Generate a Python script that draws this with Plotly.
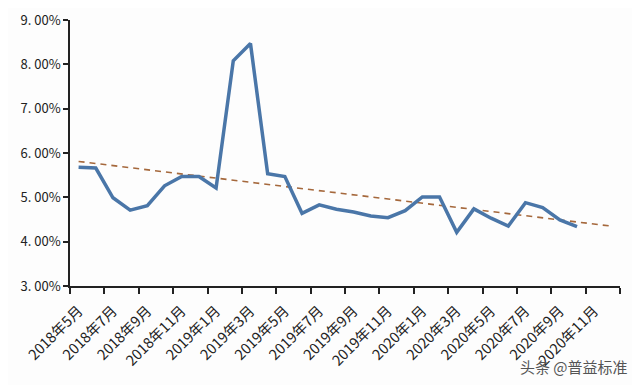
import plotly.graph_objects as go

months = [f"{y}年{m}月" for y, m in
          [(2018, m) for m in range(5, 13)] + [(2019, m) for m in range(1, 13)] + [(2020, m) for m in range(1, 13)]]

values = [5.68, 5.66, 4.99, 4.71, 4.81, 5.26, 5.47, 5.47, 5.21, 8.08,
          8.47, 5.53, 5.47, 4.64, 4.83, 4.73, 4.67, 4.58, 4.54, 4.70,
          5.01, 5.01, 4.21, 4.74, 4.53, 4.35, 4.88, 4.77, 4.49, 4.34]

trend_x = [months[0], months[-1]]
trend_y = [5.81, 4.35]

y_ticks = [3, 4, 5, 6, 7, 8, 9]
y_labels = [f"{v}. 00%" for v in y_ticks]

fig = go.Figure()
fig.add_trace(go.Scatter(x=trend_x, y=trend_y, mode="lines",
                         line=dict(color="#a5683c", width=1.6, dash="6px,5px"),
                         hoverinfo="skip"))
fig.add_trace(go.Scatter(x=months[:len(values)], y=values, mode="lines",
                         line=dict(color="#4a76a8", width=3.5)))

fig.update_layout(
    width=640, height=385,
    margin=dict(l=62, r=28, t=12, b=107, autoexpand=False),
    paper_bgcolor="#fdfdfd", plot_bgcolor="#fdfdfd",
    showlegend=False,
    font=dict(family="Noto Sans CJK SC", color="#222222"),
)
fig.update_xaxes(
    type="category", categoryorder="array", categoryarray=months,
    range=[-0.5, len(months) - 0.5], automargin=False,
    dtick=2, tickson="boundaries",
    tickangle=-45, tickfont=dict(size=14.5, color="#222222"),
    ticklabelstandoff=9,
    showline=True, linecolor="#222222", linewidth=1.5,
    ticks="outside", ticklen=6, tickcolor="#222222", tickwidth=1.5,
    showgrid=False, zeroline=False,
)
fig.update_yaxes(
    range=[3, 9], tickvals=y_ticks, ticktext=y_labels, automargin=False,
    tickfont=dict(size=13, color="#222222"),
    showline=True, linecolor="#222222", linewidth=1.5,
    ticks="outside", ticklen=5, tickcolor="#222222", tickwidth=1.5,
    showgrid=False, zeroline=False,
)
fig.add_annotation(text="头条 @普益标准", xref="paper", yref="paper",
                   x=1.018, y=-0.255, xanchor="right", yanchor="top",
                   showarrow=False, font=dict(size=15, color="#555555"))

fig.write_html("out.html")
